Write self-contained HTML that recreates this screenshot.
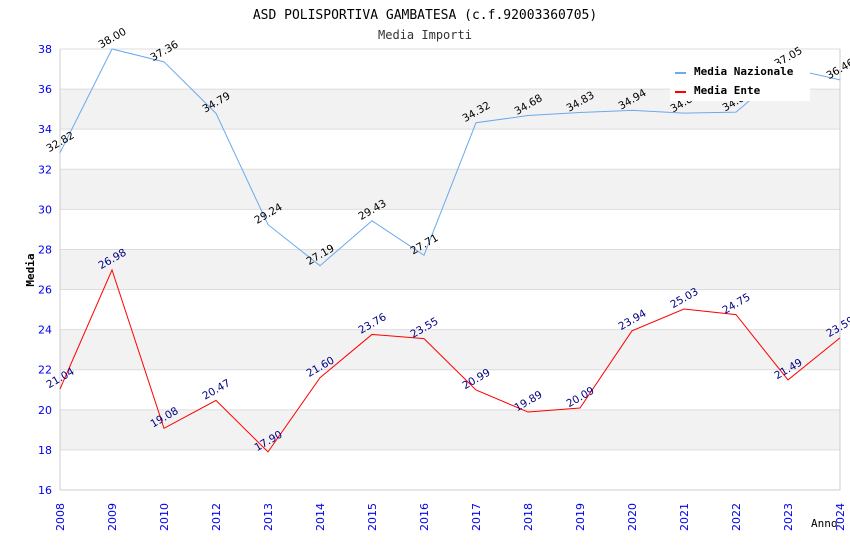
<!DOCTYPE html>
<html><head><meta charset="utf-8"><style>body{margin:0;background:#fff}svg{display:block}</style></head>
<body>
<svg id="chart" width="850" height="550" xmlns="http://www.w3.org/2000/svg" font-family="DejaVu Sans, sans-serif">
<rect width="850" height="550" fill="#fff"/>
<text x="425" y="19" text-anchor="middle" font-family="DejaVu Sans Mono, monospace" font-size="13" fill="#000">ASD POLISPORTIVA GAMBATESA (c.f.92003360705)</text>
<text x="425" y="39" text-anchor="middle" font-family="DejaVu Sans Mono, monospace" font-size="12" fill="#333">Media Importi</text>
<g id="bands"></g><g id="grid"></g><g id="axes"></g><g id="series"></g>
<g id="labels"></g>
<g>
<rect x="670" y="64" width="140" height="37" fill="#fff"/>
<rect x="675" y="72" width="11" height="2" fill="#6aaaee"/>
<text x="694" y="75" font-family="DejaVu Sans Mono, monospace" font-weight="bold" font-size="11">Media Nazionale</text>
<rect x="675" y="91" width="11" height="2" fill="#ff0000"/>
<text x="694" y="94" font-family="DejaVu Sans Mono, monospace" font-weight="bold" font-size="11">Media Ente</text>
</g>
<text transform="translate(34,270) rotate(-90)" text-anchor="middle" font-family="DejaVu Sans Mono, monospace" font-weight="bold" font-size="11">Media</text>
<text x="811" y="527" font-family="DejaVu Sans Mono, monospace" font-size="11">Anno</text>
</svg>
<script>
const years = ['2008','2009','2010','2012','2013','2014','2015','2016','2017','2018','2019','2020','2021','2022','2023','2024'];
const nazionale = [32.82,38.00,37.36,34.79,29.24,27.19,29.43,27.71,34.32,34.68,34.83,34.94,34.80,34.85,37.05,36.46];
const ente = [21.04,26.98,19.08,20.47,17.90,21.60,23.76,23.55,20.99,19.89,20.09,23.94,25.03,24.75,21.49,23.59];
const yTicks = [16,18,20,22,24,26,28,30,32,34,36,38];
const NS='http://www.w3.org/2000/svg';
const X0=60,X1=840,Y0=490,Y1=49,YMIN=16,YMAX=38;
function xs(i){return X0+(X1-X0)*i/(years.length-1);}
function ys(v){return Y0-(v-YMIN)*(Y0-Y1)/(YMAX-YMIN);}
function mk(tag,attrs,parent,txt){const e=document.createElementNS(NS,tag);for(const k in attrs)e.setAttribute(k,attrs[k]);if(txt!==undefined)e.textContent=txt;document.getElementById(parent).appendChild(e);return e;}
for(let i=0;i<yTicks.length-1;i++){
  if(i%2===1){const r=mk('rect',{x:X0,y:ys(yTicks[i+1]),width:X1-X0,height:ys(yTicks[i])-ys(yTicks[i+1]),fill:'#f2f2f2'},'bands');
  
  }
}
yTicks.forEach(t=>{
  const l=mk('line',{x1:X0,x2:X1,y1:ys(t),y2:ys(t),stroke:'#dddddd'},'grid');
  
  
  const tx=mk('text',{x:52,y:ys(t)+4,'text-anchor':'end','font-size':'11',fill:'#0000ee'},'axes',t);
  
  
});
mk('line',{x1:X0,x2:X0,y1:Y1,y2:Y0,stroke:'#cccccc'},'axes');
mk('line',{x1:X1,x2:X1,y1:Y1,y2:Y0,stroke:'#cccccc'},'axes');
mk('line',{x1:X0,x2:X1,y1:Y0,y2:Y0,stroke:'#cccccc'},'axes');
years.forEach((y,i)=>{
  const t=mk('text',{transform:`translate(${xs(i)+4},503) rotate(-90)`,'text-anchor':'end','font-size':'11',fill:'#0000ee'},'axes',y);
  
  
});
function series(vals,color,lblColor,name){
  const p=mk('polyline',{points:vals.map((v,i)=>xs(i)+','+ys(v)).join(' '),fill:'none',stroke:color,'stroke-width':'1'},'series');
  
  
  vals.forEach((v,i)=>{
    const t=mk('text',{transform:`translate(${xs(i)+2},${ys(v)-8}) rotate(-30)`,'text-anchor':'middle','font-size':'10.5',fill:lblColor},'labels',v.toFixed(2));
    
    
  });
}
series(nazionale,'#6aaaee','#000','line-media-nazionale');
series(ente,'#ff0000','#000080','line-media-ente');
</script>
</body></html>
